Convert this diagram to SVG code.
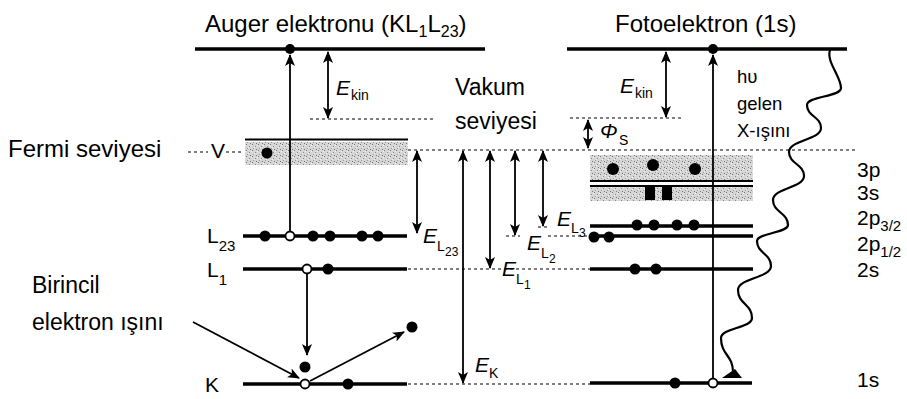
<svg xmlns="http://www.w3.org/2000/svg" width="907" height="399" viewBox="0 0 907 399">
<defs>
<style>
text{font-family:"Liberation Sans",Arial,sans-serif;fill:#000}
.t24{font-size:24px}
.t23{font-size:23px}
.t21{font-size:21px}
.t18{font-size:18.5px}
.it{font-style:italic}
.s14{font-size:14px}
.s12{font-size:12px}
.lvl{stroke:#000;stroke-width:3.5;fill:none}
.thin{stroke:#000;stroke-width:2;fill:none}
.dash{stroke:#000;stroke-width:1.2;stroke-dasharray:3 3;fill:none}
.arr{stroke:#000;stroke-width:1.8;fill:none}
.wave{stroke:#000;stroke-width:2.2;fill:none}
.sa{marker-end:url(#ah)}
.da{marker-start:url(#ah);marker-end:url(#ah)}
.dot{fill:#000}
.hole{fill:#fff;stroke:#000;stroke-width:1.8}
.band{fill:url(#stip)}
</style>
<marker id="ah" viewBox="0 0 12 10" refX="11" refY="5" markerWidth="12" markerHeight="10" markerUnits="userSpaceOnUse" orient="auto-start-reverse">
<path d="M0,0 L12,5 L0,10 L3,5 z" fill="#000"/>
</marker>
<pattern id="stip" width="6" height="6" patternUnits="userSpaceOnUse">
<rect width="6" height="6" fill="#d6d6d6"/>
<rect x="0" y="0" width="1" height="1" fill="#777"/>
<rect x="3" y="2" width="1" height="1" fill="#888"/>
<rect x="1" y="4" width="1" height="1" fill="#999"/>
<rect x="4" y="5" width="1" height="1" fill="#777"/>
<rect x="5" y="1" width="1" height="1" fill="#f4f4f4"/>
<rect x="2" y="3" width="1" height="1" fill="#f4f4f4"/>
</pattern>
</defs>
<rect width="907" height="399" fill="#fff"/>

<g id="titles">
<text class="t24" x="205" y="32">Auger elektronu (KL<tspan font-size="16" dy="5">1</tspan><tspan dy="-5">L</tspan><tspan font-size="16" dy="5">23</tspan><tspan dy="-5">)</tspan></text>
<text class="t24" x="615" y="32">Fotoelektron (1s)</text>
</g>

<g id="fermi-label">
<text class="t24" x="8" y="157">Fermi seviyesi</text>
<line class="dash" x1="188" y1="152" x2="208" y2="152"/>
<text class="t21" x="211" y="158">V</text>
<line class="dash" x1="226" y1="152" x2="243" y2="152"/>
</g>

<g id="primary-label">
<text class="t23" x="32" y="293">Birincil</text>
<text class="t23" x="32" y="330">elektron ışını</text>
</g>

<g id="vacuum-label">
<text class="t23" x="455" y="95">Vakum</text>
<text class="t23" x="455" y="129">seviyesi</text>
</g>

<g id="auger-levels">
<line class="lvl" x1="195" y1="49" x2="485" y2="49"/>
<circle class="dot" cx="290" cy="49" r="5"/>
<line class="thin" x1="245" y1="139.5" x2="408" y2="139.5"/>
<rect class="band" x="245" y="142" width="163" height="23"/>
<circle class="dot" cx="267" cy="153" r="5.5"/>
<line class="lvl" x1="243" y1="236" x2="407" y2="236"/>
<circle class="dot" cx="265" cy="236" r="5.5"/>
<circle class="dot" cx="313" cy="236" r="5.5"/>
<circle class="dot" cx="330" cy="236" r="5.5"/>
<circle class="dot" cx="362" cy="236" r="5.5"/>
<circle class="dot" cx="378" cy="236" r="5.5"/>
<circle class="hole" cx="290" cy="236" r="4.5"/>
<line class="lvl" x1="243" y1="269" x2="407" y2="269"/>
<circle class="dot" cx="328" cy="269" r="5.5"/>
<circle class="hole" cx="307" cy="269" r="4.5"/>
<line class="lvl" x1="243" y1="384" x2="407" y2="384"/>
<circle class="dot" cx="348" cy="384" r="5.5"/>
<circle class="hole" cx="305" cy="384" r="4.5"/>
<circle class="dot" cx="305" cy="367" r="5.5"/>
<circle class="dot" cx="412" cy="327" r="5.5"/>
<text class="t21" x="207" y="243">L<tspan font-size="15" dy="8">23</tspan></text>
<text class="t21" x="207" y="277">L<tspan font-size="15" dy="8">1</tspan></text>
<text class="t21" x="205" y="392">K</text>
</g>

<g id="photo-levels">
<line class="lvl" x1="567" y1="49" x2="847" y2="49"/>
<circle class="dot" cx="713" cy="49" r="5"/>
<rect class="band" x="590" y="155" width="163" height="25"/>
<line class="thin" x1="590" y1="181" x2="753" y2="181"/>
<circle class="dot" cx="613" cy="169" r="6"/>
<circle class="dot" cx="653" cy="165" r="6"/>
<circle class="dot" cx="695" cy="169" r="6"/>
<line class="thin" x1="590" y1="186" x2="753" y2="186"/>
<rect class="band" x="590" y="187" width="163" height="14"/>
<rect class="dot" x="645" y="187" width="10" height="13"/>
<rect class="dot" x="662" y="187" width="10" height="13"/>
<line class="lvl" x1="590" y1="226" x2="753" y2="226"/>
<circle class="dot" cx="637" cy="225" r="5.5"/>
<circle class="dot" cx="654" cy="225" r="5.5"/>
<circle class="dot" cx="677" cy="225" r="5.5"/>
<circle class="dot" cx="694" cy="225" r="5.5"/>
<line class="lvl" x1="590" y1="236" x2="753" y2="236"/>
<circle class="dot" cx="594" cy="237" r="5.5"/>
<circle class="dot" cx="609" cy="237" r="5.5"/>
<line class="lvl" x1="590" y1="269" x2="753" y2="269"/>
<circle class="dot" cx="635" cy="269" r="5.5"/>
<circle class="dot" cx="656" cy="269" r="5.5"/>
<line class="lvl" x1="590" y1="383" x2="752" y2="383"/>
<circle class="dot" cx="675" cy="383" r="5.5"/>
<text class="t21" x="857" y="177">3p</text>
<text class="t21" x="857" y="200">3s</text>
<text class="t21" x="857" y="225">2p<tspan font-size="15" dy="6">3/2</tspan></text>
<text class="t21" x="857" y="251">2p<tspan font-size="15" dy="6">1/2</tspan></text>
<text class="t21" x="857" y="277">2s</text>
<text class="t21" x="857" y="387">1s</text>
</g>

<g id="connectors">
<line class="dash" x1="310" y1="119" x2="433" y2="119"/>
<line class="dash" x1="570" y1="118" x2="684" y2="118"/>
<line class="dash" x1="408" y1="150" x2="858" y2="150"/>
<line class="dash" x1="506" y1="236" x2="520" y2="236"/>
<line class="dash" x1="538" y1="227" x2="550" y2="227"/>
<line class="dash" x1="548" y1="236" x2="590" y2="236"/>
<line class="dash" x1="408" y1="269" x2="590" y2="269"/>
<line class="dash" x1="408" y1="384" x2="590" y2="384"/>

<line class="arr sa" x1="290" y1="231" x2="290" y2="55"/>
<line class="arr da" x1="328" y1="52" x2="328" y2="118"/>
<line class="arr sa" x1="307" y1="274" x2="307" y2="355"/>
<line class="arr sa" x1="193" y1="322" x2="299" y2="378"/>
<line class="arr sa" x1="310" y1="381" x2="404" y2="332"/>

<line class="arr da" x1="417" y1="151" x2="417" y2="233"/>
<line class="arr da" x1="463" y1="151" x2="463" y2="383"/>
<line class="arr da" x1="490" y1="151" x2="490" y2="268"/>
<line class="arr da" x1="515" y1="151" x2="515" y2="235"/>
<line class="arr da" x1="543" y1="151" x2="543" y2="226"/>

<line class="arr da" x1="666" y1="52" x2="666" y2="117"/>
<line class="arr da" x1="588" y1="120" x2="588" y2="148"/>
<line class="arr sa" x1="713" y1="379" x2="713" y2="55"/>
<circle class="hole" cx="713" cy="383" r="4.5"/>

<path class="wave" d="M830,50 C826,62 841,76 841,88 C841,97 807,96 807,105 C807,116.5 821,116.5 821,128 C821,140 789,140 789,152 C789,164 804,164 804,176 C804,188 773,188 773,200 C773,212.5 788,212.5 788,225 C788,233 757,233 757,241 C757,253.5 771,253.5 771,266 C771,278 738,278 738,290 C738,304 752,304 752,318 C752,328 721,328 721,338 C721,355 733,355 733,372"/>
<polygon points="722,378 735,369 742,378" fill="#000"/>
</g>

<g id="energy-labels">
<text class="t21 it" x="336" y="95">E</text><text class="s14" x="351" y="100">kin</text>
<text class="t21 it" x="620" y="93">E</text><text class="s14" x="635" y="98">kin</text>
<text class="t21 it" x="600" y="138">Φ</text><text class="s14" x="619" y="145">S</text>
<text class="t21 it" x="423" y="243">E</text><text class="s14" x="437" y="251">L</text><text class="s12" x="445" y="256">23</text>
<text class="t21 it" x="502" y="276">E</text><text class="s14" x="516" y="284">L</text><text class="s12" x="524" y="289">1</text>
<text class="t21 it" x="527" y="250">E</text><text class="s14" x="541" y="258">L</text><text class="s12" x="549" y="263">2</text>
<text class="t21 it" x="557" y="226">E</text><text class="s14" x="571" y="233">L</text><text class="s12" x="579" y="237">3</text>
<text class="t21 it" x="475" y="372">E</text><text class="s14" x="489" y="378">K</text>
<text class="t18" x="737" y="83">hυ</text>
<text class="t18" x="737" y="110">gelen</text>
<text class="t18" x="737" y="137">X-ışını</text>
</g>
</svg>
